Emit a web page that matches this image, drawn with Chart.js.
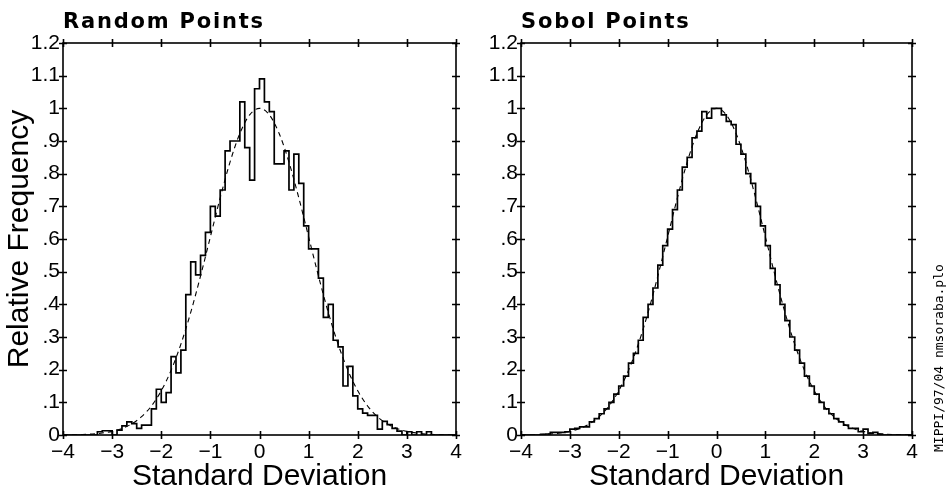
<!DOCTYPE html>
<html lang="en">
<head>
  <meta charset="UTF-8" />
  <title>Random Points vs Sobol Points</title>
  <style>
    body {
      margin: 0;
      background: #fff;
    }
    #wrap {
      position: relative;
      width: 948px;
      height: 488px;
      overflow: hidden;
      background: #fff;
    }
    #wrap canvas {
      position: absolute;
      top: 0;
    }
    #leftChart { left: 0; }
    #rightChart { left: 474px; }
    .stamp {
      position: absolute;
      left: 932px;
      top: 452px;
      font-family: 'DejaVu Sans Mono', monospace;
      font-size: 13px;
      line-height: 13px;
      color: #000;
      white-space: nowrap;
      transform: rotate(-90deg);
      transform-origin: left top;
    }
  </style>
</head>
<body>
  <div id="wrap">
    <canvas id="leftChart" width="474" height="488"></canvas>
    <canvas id="rightChart" width="474" height="488"></canvas>
    <div class="stamp">MIPPI/97/04 nmsoraba.plo</div>
  </div>

  <script src="https://cdn.jsdelivr.net/npm/chart.js"></script>
  <script>
    // histogram bins: 80 bins of 0.1 from -4 to 4
    const binStart = -4;
    const binWidth = 0.1;

    const randomFreq = [
      0, 0, 0, 0, 0, 0, 0, 0.01, 0.013, 0.013,
      0, 0.015, 0.028, 0.04, 0.035, 0.02, 0.03, 0.03, 0.08, 0.14,
      0.10, 0.13, 0.24, 0.19, 0.26, 0.43, 0.53, 0.49, 0.55, 0.62,
      0.70, 0.67, 0.75, 0.87, 0.90, 0.90, 1.02, 0.88, 0.78, 1.06,
      1.09, 1.02, 0.99, 0.83, 0.83, 0.87, 0.75, 0.86, 0.77, 0.64,
      0.57, 0.57, 0.48, 0.36, 0.40, 0.29, 0.27, 0.15, 0.21, 0.12,
      0.08, 0.067, 0.06, 0.06, 0.018, 0.042, 0.032, 0.02, 0.012, 0,
      0.01, 0, 0.01, 0, 0.01, 0, 0, 0, 0, 0
    ];

    const sobolFreq = [
      0, 0, 0, 0, 0.002, 0.003, 0.008, 0.008, 0.008, 0.01,
      0.018, 0.02, 0.025, 0.025, 0.04, 0.05, 0.065, 0.08, 0.10, 0.125,
      0.15, 0.18, 0.22, 0.25, 0.29, 0.36, 0.40, 0.45, 0.52, 0.58,
      0.63, 0.69, 0.75, 0.82, 0.85, 0.91, 0.93, 0.99, 0.97, 1.0,
      1.0, 0.98, 0.96, 0.95, 0.89, 0.86, 0.80, 0.77, 0.70, 0.64,
      0.58, 0.51, 0.46, 0.40, 0.35, 0.30, 0.26, 0.22, 0.18, 0.15,
      0.125, 0.10, 0.08, 0.065, 0.05, 0.04, 0.03, 0.02, 0.02, 0.01,
      0.018, 0.005, 0.008, 0.002, 0, 0, 0, 0, 0, 0
    ];

    // dashed normal curve
    const curveX = [
      -4, -3.8, -3.6, -3.4, -3.2, -3, -2.8, -2.6, -2.4, -2.2, -2,
      -1.8, -1.6, -1.4, -1.2, -1, -0.8, -0.6, -0.4, -0.2, 0,
      0.2, 0.4, 0.6, 0.8, 1, 1.2, 1.4, 1.6, 1.8, 2,
      2.2, 2.4, 2.6, 2.8, 3, 3.2, 3.4, 3.6, 3.8, 4
    ];
    const curveY = [
      0.0003, 0.0007, 0.0015, 0.0031, 0.006, 0.0111, 0.0198, 0.034, 0.0561, 0.0889, 0.1353,
      0.1979, 0.278, 0.3753, 0.4868, 0.6065, 0.7261, 0.8353, 0.9231, 0.9802, 1,
      0.9802, 0.9231, 0.8353, 0.7261, 0.6065, 0.4868, 0.3753, 0.278, 0.1979, 0.1353,
      0.0889, 0.0561, 0.034, 0.0198, 0.0111, 0.006, 0.0031, 0.0015, 0.0007, 0.0003
    ];

    const xTickLabels = ['\u22124', '\u22123', '\u22122', '\u22121', '0', '1', '2', '3', '4'];
    const yTickLabels = ['0', '.1', '.2', '.3', '.4', '.5', '.6', '.7', '.8', '.9', '1', '1.1', '1.2'];

    const FONT = "'Liberation Sans', Arial, sans-serif";

    function histPoints(freq) {
      const pts = freq.map((v, i) => ({ x: binStart + i * binWidth, y: v }));
      pts.push({ x: binStart + freq.length * binWidth, y: freq[freq.length - 1] });
      return pts;
    }

    // box with crossing tick marks + panel title
    const frame = {
      id: 'frame',
      afterDraw(chart, args, opts) {
        const { ctx, chartArea: a, scales: { x, y } } = chart;
        ctx.save();
        ctx.strokeStyle = '#000';
        ctx.lineWidth = 1.6;
        ctx.strokeRect(a.left, a.top, a.right - a.left, a.bottom - a.top);
        ctx.beginPath();
        x.ticks.forEach(t => {
          const px = Math.round(x.getPixelForValue(t.value)) + 0.5;
          ctx.moveTo(px, a.top - 4); ctx.lineTo(px, a.top + 4);
          ctx.moveTo(px, a.bottom - 4); ctx.lineTo(px, a.bottom + 4);
        });
        y.ticks.forEach(t => {
          const py = Math.round(y.getPixelForValue(t.value)) + 0.5;
          ctx.moveTo(a.left - 4, py); ctx.lineTo(a.left + 4, py);
          ctx.moveTo(a.right - 4, py); ctx.lineTo(a.right + 4, py);
        });
        ctx.stroke();
        ctx.fillStyle = '#000';
        ctx.font = "bold 21px 'DejaVu Sans', sans-serif";
        ctx.letterSpacing = '1.8px';
        ctx.textBaseline = 'alphabetic';
        ctx.fillText(opts.text, a.left, a.top - 15);
        ctx.restore();
      }
    };

    function makeChart(id, title, freq, yAxisWidth, padRight, showYTitle) {
      return new Chart(document.getElementById(id), {
        type: 'line',
        data: {
          datasets: [
            {
              data: curveX.map((v, i) => ({ x: v, y: curveY[i] })),
              borderColor: '#000',
              borderWidth: 1.1,
              borderDash: [5, 4],
              pointRadius: 0,
              cubicInterpolationMode: 'monotone',
              fill: false
            },
            {
              data: histPoints(freq),
              borderColor: '#000',
              borderWidth: 1.7,
              stepped: 'before',
              pointRadius: 0,
              fill: false
            }
          ]
        },
        options: {
          responsive: false,
          animation: false,
          devicePixelRatio: 1,
          layout: { padding: { left: 0, top: 43, right: padRight, bottom: 0 } },
          plugins: {
            legend: { display: false },
            tooltip: { enabled: false },
            frame: { text: title }
          },
          scales: {
            x: {
              type: 'linear',
              min: -4,
              max: 4,
              grid: { display: false, drawTicks: false },
              border: { display: false },
              ticks: {
                stepSize: 1,
                padding: 5,
                color: '#000',
                font: { family: FONT, size: 21 },
                maxRotation: 0,
                callback: v => xTickLabels[Math.round(v) + 4]
              },
              title: {
                display: true,
                text: 'Standard Deviation',
                color: '#000',
                font: { family: FONT, size: 30, lineHeight: 1 },
                padding: { top: 0, bottom: -4 }
              },
              afterFit: s => { s.height = 53; }
            },
            y: {
              type: 'linear',
              min: 0,
              max: 1.2,
              grid: { display: false, drawTicks: false },
              border: { display: false },
              ticks: {
                stepSize: 0.1,
                padding: 3,
                color: '#000',
                font: { family: FONT, size: 21 },
                callback: v => yTickLabels[Math.round(v * 10)]
              },
              title: {
                display: showYTitle,
                text: 'Relative Frequency',
                color: '#000',
                font: { family: FONT, size: 30, lineHeight: 1 },
                padding: { top: 5, bottom: 0 }
              },
              afterFit: s => { s.width = yAxisWidth; }
            }
          }
        },
        plugins: [frame]
      });
    }

    makeChart('leftChart', 'Random Points', randomFreq, 63, 18, true);
    makeChart('rightChart', 'Sobol Points', sobolFreq, 47, 36, false);
  </script>
</body>
</html>
